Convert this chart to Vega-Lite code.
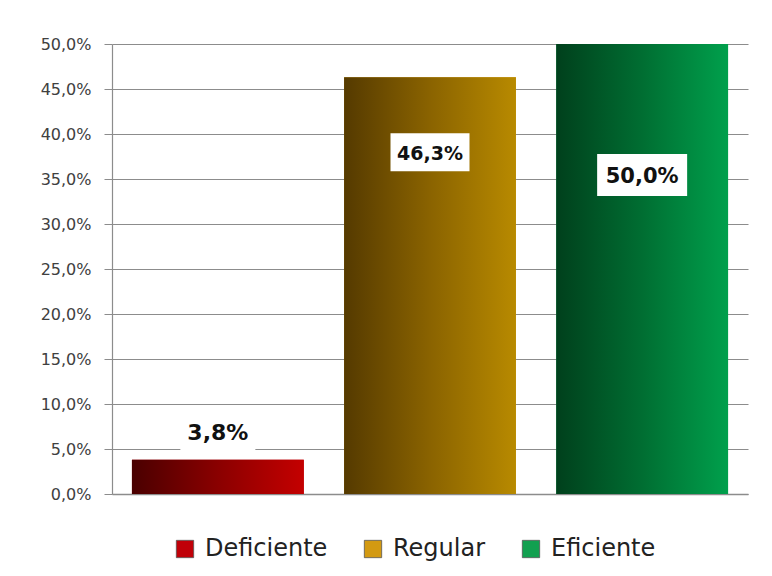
{
  "$schema": "https://vega.github.io/schema/vega-lite/v6.json",
  "width": 636,
  "height": 450,
  "autosize": {"type": "none"},
  "padding": {"left": 112, "top": 44, "right": 24, "bottom": 82},
  "background": "white",
  "config": {
    "locale": {"number": {"decimal": ",", "thousands": ".", "grouping": [3], "currency": ["", " €"]}},
    "font": "DejaVu Sans",
    "view": {"stroke": null}
  },
  "data": {"values": [
    {"categoria": "Deficiente", "valor": 0.038},
    {"categoria": "Regular", "valor": 0.463},
    {"categoria": "Eficiente", "valor": 0.5}
  ]},
  "encoding": {
    "x": {"field": "categoria", "type": "nominal", "sort": ["Deficiente", "Regular", "Eficiente"],
      "scale": {"paddingInner": 0.19, "paddingOuter": 0.094},
      "axis": {"labels": false, "ticks": false, "title": null, "domain": true, "domainColor": "#8c8c8c", "domainWidth": 1.5}},
    "y": {"field": "valor", "type": "quantitative",
      "scale": {"domain": [0, 0.5], "nice": false},
      "axis": {"format": ".1%", "values": [0, 0.05, 0.1, 0.15, 0.2, 0.25, 0.3, 0.35, 0.4, 0.45, 0.5],
        "title": null, "labelFontSize": 16, "labelColor": "#404040", "labelPadding": 13,
        "tickSize": 8, "tickColor": "#8c8c8c", "domainColor": "#8c8c8c", "domainWidth": 1.2,
        "gridColor": "#8c8c8c", "gridWidth": 1.2}}
  },
  "layer": [
    {
      "mark": {"type": "bar"},
      "encoding": {
        "color": {"field": "categoria", "type": "nominal", "sort": ["Deficiente", "Regular", "Eficiente"],
          "scale": {"domain": ["Deficiente", "Regular", "Eficiente"], "range": ["#c00008", "#d39a12", "#12a050"]},
          "legend": {"title": null, "orient": "none", "direction": "horizontal", "columns": 3,
            "legendX": 61, "legendY": 493, "labelFontSize": 24, "labelColor": "#222222",
            "symbolType": "square", "symbolSize": 300, "symbolStrokeWidth": 0.8, "symbolStrokeColor": "#555555",
            "labelOffset": 8, "columnPadding": 33, "symbolOpacity": 1}}
      }
    },
    {
      "mark": {"type": "bar"},
      "encoding": {
        "fill": {
          "condition": [
            {"test": "datum.categoria === 'Deficiente'", "value": {"gradient": "linear", "x1": 0, "y1": 0, "x2": 1, "y2": 0,
              "stops": [{"offset": 0, "color": "#4a0000"}, {"offset": 0.5, "color": "#8a0000"}, {"offset": 1, "color": "#c40000"}]}},
            {"test": "datum.categoria === 'Regular'", "value": {"gradient": "linear", "x1": 0, "y1": 0, "x2": 1, "y2": 0,
              "stops": [{"offset": 0, "color": "#553a00"}, {"offset": 0.5, "color": "#8a6300"}, {"offset": 1, "color": "#b88a00"}]}}
          ],
          "value": {"gradient": "linear", "x1": 0, "y1": 0, "x2": 1, "y2": 0,
            "stops": [{"offset": 0, "color": "#00401c"}, {"offset": 0.5, "color": "#006e32"}, {"offset": 1, "color": "#00a04c"}]}
        }
      }
    },
    {
      "transform": [{"filter": "datum.categoria === 'Deficiente'"}],
      "mark": {"type": "point", "shape": "M-1,-0.49H1V0.49H-1Z", "size": 5625, "filled": true, "fill": "white", "opacity": 1, "strokeWidth": 0, "yOffset": -28}
    },
    {
      "transform": [{"filter": "datum.categoria === 'Regular'"}],
      "mark": {"type": "point", "shape": "M-1,-0.48H1V0.48H-1Z", "size": 6241, "filled": true, "fill": "white", "opacity": 1, "strokeWidth": 0, "yOffset": 75}
    },
    {
      "transform": [{"filter": "datum.categoria === 'Eficiente'"}],
      "mark": {"type": "point", "shape": "M-1,-0.467H1V0.467H-1Z", "size": 8100, "filled": true, "fill": "white", "opacity": 1, "strokeWidth": 0, "yOffset": 131}
    },
    {
      "transform": [{"filter": "datum.categoria === 'Deficiente'"}],
      "mark": {"type": "text", "fontWeight": "bold", "fontSize": 22, "color": "#111111", "baseline": "middle", "yOffset": -27},
      "encoding": {"text": {"field": "valor", "type": "quantitative", "format": ".1%"}}
    },
    {
      "transform": [{"filter": "datum.categoria === 'Regular'"}],
      "mark": {"type": "text", "fontWeight": "bold", "fontSize": 19, "color": "#111111", "baseline": "middle", "yOffset": 77},
      "encoding": {"text": {"field": "valor", "type": "quantitative", "format": ".1%"}}
    },
    {
      "transform": [{"filter": "datum.categoria === 'Eficiente'"}],
      "mark": {"type": "text", "fontWeight": "bold", "fontSize": 21, "color": "#111111", "baseline": "middle", "yOffset": 133},
      "encoding": {"text": {"field": "valor", "type": "quantitative", "format": ".1%"}}
    }
  ]
}
